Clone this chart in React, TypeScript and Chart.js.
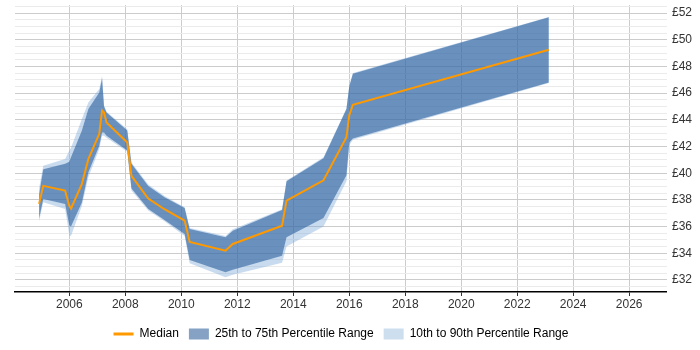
import React, { useEffect, useRef } from "react";
import { Chart, registerables } from "chart.js";

Chart.register(...registerables);

// Sample dates (decimal years) shared by every series
const years = [
  2004.92, 2005.07, 2005.85, 2006.0, 2006.06, 2006.45, 2006.68, 2007.07, 2007.17,
  2007.24, 2007.33, 2008.07, 2008.22, 2008.82, 2009.4, 2010.12, 2010.3, 2011.58,
  2011.84, 2013.6, 2013.76, 2015.08, 2015.9, 2016.0, 2016.13, 2023.13,
];

// Hourly rate percentiles (£)
const median = [
  37.7, 39.05, 38.7, 37.55, 37.35, 39.2, 41.05, 42.95, 44.7, 44.55, 43.8, 42.3,
  39.8, 38.1, 37.3, 36.45, 34.85, 34.2, 34.7, 36.07, 37.94, 39.47, 42.7, 44.35,
  45.12, 49.25,
];
const p75 = [
  38.4, 40.3, 40.7, 40.85, 41.2, 43.2, 44.8, 46.05, 47.1, 45.0, 44.55, 43.2, 40.7,
  39.05, 38.2, 37.4, 35.82, 35.2, 35.69, 37.25, 39.39, 41.12, 44.8, 46.5, 47.45,
  51.68,
];
const p25 = [
  36.6, 38.07, 37.69, 36.1, 36.0, 37.8, 40.05, 42.05, 43.05, 43.05, 42.8, 41.7,
  38.85, 37.32, 36.5, 35.45, 33.5, 32.58, 32.77, 33.82, 35.2, 36.65, 39.85, 42.3,
  42.6, 46.8,
];
const p90 = [
  38.9, 40.56, 41.06, 41.7, 41.9, 44.06, 45.3, 46.3, 47.3, 45.1, 44.6, 43.3, 40.8,
  39.15, 38.3, 37.45, 35.9, 35.3, 35.8, 37.3, 39.45, 41.2, 44.85, 46.55, 47.5,
  51.7,
];
const p10 = [
  36.4, 37.82, 37.32, 35.35, 35.3, 37.57, 39.69, 41.81, 42.8, 42.8, 42.65, 41.6,
  38.7, 37.2, 36.4, 35.3, 33.25, 32.2, 32.4, 33.3, 34.5, 36.0, 39.4, 42.1, 42.5,
  46.75,
];

const xTickYears = [2006, 2008, 2010, 2012, 2014, 2016, 2018, 2020, 2022, 2024, 2026];
const legendLabels = ["Median", "25th to 75th Percentile Range", "10th to 90th Percentile Range"];

const ORANGE = "rgb(255,153,0)";
const DARK = "rgba(30,85,150,0.55)";
const LIGHT = "rgba(120,165,215,0.4)";
const DARK_SWATCH = "rgb(133,162,196)";
const LIGHT_SWATCH = "rgb(205,222,238)";
const FONT = "'Liberation Sans', Arial, sans-serif";

const pts = (vals: number[]) => vals.map((v, i) => ({ x: years[i], y: v }));

export default function App() {
  const canvasRef = useRef<HTMLCanvasElement | null>(null);

  useEffect(() => {
    if (!canvasRef.current) return;
    const base = { pointRadius: 0, pointHoverRadius: 0, borderWidth: 0, tension: 0 };
    const chart = new Chart(canvasRef.current, {
      type: "line",
      data: {
        datasets: [
          { ...base, label: "p10", data: pts(p10), fill: false, order: 3 },
          { ...base, label: "p90", data: pts(p90), fill: "-1", backgroundColor: LIGHT, order: 3 },
          { ...base, label: "p25", data: pts(p25), fill: false, order: 2 },
          { ...base, label: "p75", data: pts(p75), fill: "-1", backgroundColor: DARK, order: 2 },
          {
            label: "Median",
            data: pts(median),
            borderColor: ORANGE,
            borderWidth: 2,
            pointRadius: 0,
            tension: 0,
            fill: false,
            order: 1,
          },
        ],
      },
      options: {
        animation: false,
        responsive: false,
        devicePixelRatio: 1,
        layout: { padding: { left: 15, right: 3, top: 5, bottom: 0 } },
        plugins: {
          tooltip: { enabled: false },
          legend: {
            position: "bottom",
            fullSize: false,
            onClick: () => {},
            labels: {
              usePointStyle: true,
              pointStyleWidth: 20,
              boxHeight: 11,
              padding: 10,
              color: "#333",
              font: { family: FONT, size: 12, lineHeight: 1 },
              generateLabels: () => [
                {
                  text: legendLabels[0],
                  fillStyle: ORANGE,
                  strokeStyle: ORANGE,
                  lineWidth: 3,
                  lineCap: "butt",
                  pointStyle: "line",
                  hidden: false,
                  datasetIndex: 4,
                },
                {
                  text: legendLabels[1],
                  fillStyle: DARK_SWATCH,
                  strokeStyle: DARK_SWATCH,
                  lineWidth: 0,
                  pointStyle: "rect",
                  hidden: false,
                  datasetIndex: 3,
                },
                {
                  text: legendLabels[2],
                  fillStyle: LIGHT_SWATCH,
                  strokeStyle: LIGHT_SWATCH,
                  lineWidth: 0,
                  pointStyle: "rect",
                  hidden: false,
                  datasetIndex: 1,
                },
              ],
            },
          },
        },
        scales: {
          x: {
            type: "linear",
            min: 2004.06,
            max: 2027.35,
            afterBuildTicks: (scale: any) => {
              scale.ticks = xTickYears.map((v) => ({ value: v }));
            },
            afterFit: (scale: any) => {
              scale.height = 26;
              scale.paddingLeft = 0;
              scale.paddingRight = 0;
            },
            grid: {
              color: "#cccccc",
              tickColor: "#333",
              tickLength: 4,
            },
            border: { display: true, color: "#000", width: 1.5 },
            ticks: {
              color: "#333",
              padding: 1,
              maxRotation: 0,
              autoSkip: false,
              font: { family: FONT, size: 12 },
              callback: (v: any) => String(v),
            },
          },
          y: {
            type: "linear",
            position: "right",
            min: 31.1,
            max: 52.6,
            afterBuildTicks: (scale: any) => {
              const t = [];
              for (let v = 31.5; v <= 52.5; v += 0.5) t.push({ value: v });
              scale.ticks = t;
            },
            afterFit: (scale: any) => {
              scale.paddingTop = 0;
              scale.paddingBottom = 0;
            },
            grid: {
              drawTicks: false,
              color: (ctx: any) =>
                ctx.tick && ctx.tick.value % 2 === 0 ? "#cccccc" : "#ebebeb",
            },
            border: { display: false },
            ticks: {
              color: "#333",
              padding: 5,
              autoSkip: false,
              font: { family: FONT, size: 12 },
              callback: (v: any) => (Number(v) % 2 === 0 ? "£" + v : ""),
            },
          },
        },
      },
    });
    return () => chart.destroy();
  }, []);

  return (
    <div style={{ position: "fixed", left: 0, top: 0, width: 700, height: 350, background: "#fff" }}>
      <canvas ref={canvasRef} width={700} height={350} />
    </div>
  );
}
